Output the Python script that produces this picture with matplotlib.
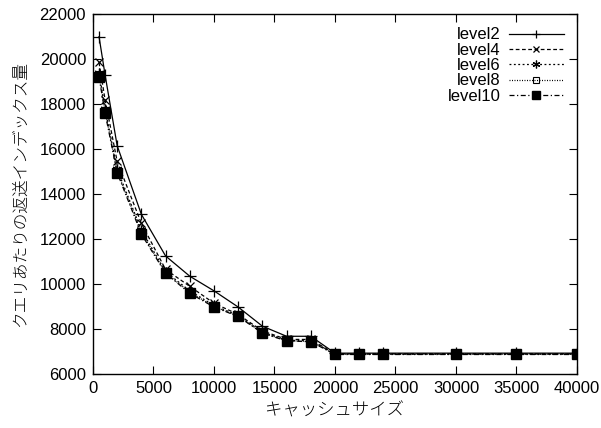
import matplotlib
matplotlib.use("Agg")
import matplotlib.pyplot as plt

# cache size (x) and returned index volume per query for each level
cache = [500, 1000, 2000, 4000, 6000, 8000, 10000, 12000, 14000, 16000,
         18000, 20000, 22000, 24000, 30000, 35000, 40000]
level2 = [21000, 19300, 16150, 13100, 11250, 10350, 9700, 8980, 8130, 7680,
          7680, 6930, 6930, 6930, 6930, 6930, 6930]
level4 = [19850, 18200, 15450, 12700, 10650, 9900, 9150, 8650, 7920, 7540,
          7540, 6900, 6900, 6900, 6900, 6900, 6900]
level6 = [19400, 17800, 15100, 12400, 10550, 9700, 9050, 8600, 7870, 7500,
          7490, 6890, 6890, 6890, 6890, 6890, 6890]
level8 = [19300, 17700, 15000, 12300, 10500, 9640, 9000, 8580, 7840, 7480,
          7460, 6880, 6880, 6880, 6880, 6880, 6880]
level10 = [19200, 17600, 14950, 12220, 10480, 9590, 8980, 8560, 7820, 7470,
           7440, 6870, 6870, 6870, 6870, 6870, 6870]

xticks = [0, 5000, 10000, 15000, 20000, 25000, 30000, 35000, 40000]
yticks = [6000, 8000, 10000, 12000, 14000, 16000, 18000, 20000, 22000]

plt.rcParams['font.family'] = ['Liberation Sans', 'Noto Sans CJK JP', 'DejaVu Sans']

fig = plt.figure(figsize=(6.01, 4.28), dpi=100)
ax = fig.add_axes([0.1547, 0.126, 0.8053, 0.841])

lw = 0.9
ax.plot(cache, level2, color='black', linestyle='-', linewidth=lw,
        marker='+', markersize=8, markeredgewidth=0.9, label='level2')
ax.plot(cache, level4, color='black', linestyle=(0, (3, 2)), linewidth=lw,
        marker='x', markersize=6, markeredgewidth=0.9, label='level4')
ax.plot(cache, level6, color='black', linestyle=(0, (1.5, 2)), linewidth=lw,
        marker=(6, 2, 0), markersize=7, markeredgewidth=0.9, label='level6')
ax.plot(cache, level8, color='black', linestyle=(0, (0.8, 1.2)), linewidth=lw,
        marker='s', markersize=6, markerfacecolor='none', markeredgewidth=0.8,
        label='level8')
ax.plot(cache, level10, color='black', linestyle=(0, (4, 2, 1, 2)), linewidth=lw,
        marker='s', markersize=7, markerfacecolor='black', label='level10')

ax.set_xlim(0, 40000)
ax.set_ylim(6000, 22000)
ax.set_xticks(xticks)
ax.set_yticks(yticks)
ax.tick_params(direction='in', top=True, right=True, length=6, width=0.8,
               labelsize=12, pad=5)
for s in ax.spines.values():
    s.set_linewidth(1.0)

ax.set_xlabel('キャッシュサイズ', family=['Noto Sans CJK JP'], fontsize=12.5,
              fontweight='light', labelpad=4)
ax.set_ylabel('クエリあたりの返送インデックス量', family=['Noto Sans CJK JP'],
              fontsize=12, fontweight='light', labelpad=8)

leg = ax.legend(loc='upper right', frameon=False, markerfirst=False, fontsize=12,
                handlelength=3.3, labelspacing=0.02, borderaxespad=0.4,
                handletextpad=0.5, markerscale=0.8)

fig.savefig('out.png', dpi=100)
